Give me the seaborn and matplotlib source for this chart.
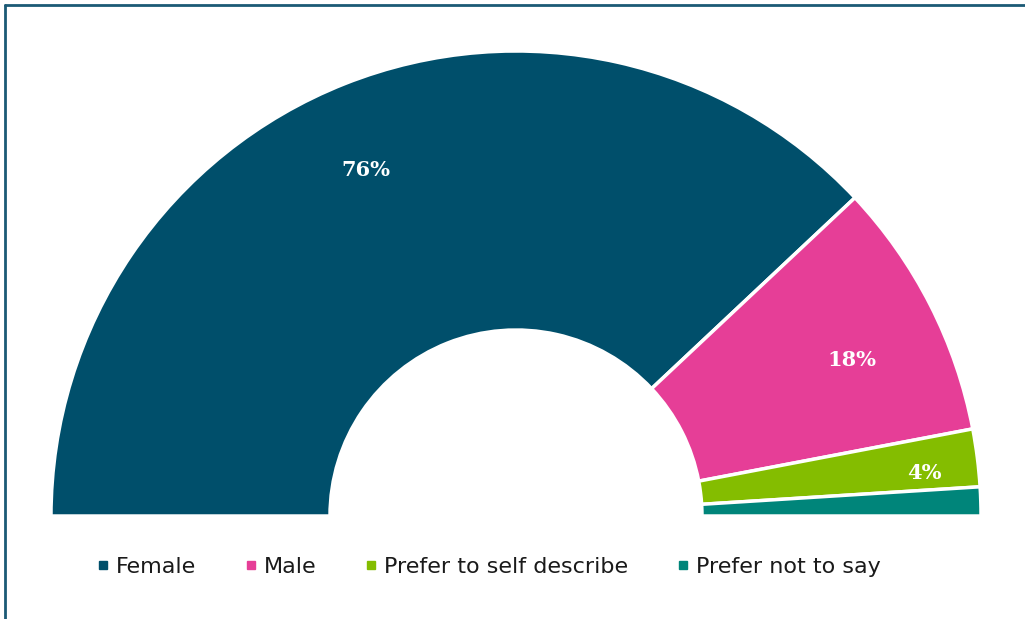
import matplotlib
matplotlib.use("Agg")
import matplotlib.pyplot as plt
from matplotlib.lines import Line2D
import numpy as np
import seaborn as sns

# Share of respondents by gender (percent)
categories = ["Female", "Male", "Prefer to self describe", "Prefer not to say"]
shares = [76, 18, 4, 2]
shown_labels = ["76%", "18%", "4%", ""]

colors = ["#004F6B", "#E63E97", "#84BD00", "#00857A"]

sns.set_theme(style="white")
plt.rcParams["font.family"] = ["DejaVu Sans"]

W, H = 1025, 619
fig = plt.figure(figsize=(W / 100, H / 100), dpi=100)
ax = fig.add_axes([0, 0, 1, 1])

cx, cy = 516, H - 516
r_out, r_in = 465, 186

# Half donut: each share covers its fraction of 180 degrees
fracs = [s / 200 for s in shares]
wedges, _ = ax.pie(
    fracs, normalize=False, startangle=180, counterclock=False,
    radius=r_out, center=(cx, cy), colors=sns.color_palette(colors),
    wedgeprops=dict(width=r_out - r_in, edgecolor="white", linewidth=2.5),
)

# Value labels inside the wedges (radius and small angular nudge per label)
label_r = [379, 371, 411, 0]
label_nudge = [1.7, -1.8, -0.9, 0]
for w, txt, lr, nd in zip(wedges, shown_labels, label_r, label_nudge):
    if not txt:
        continue
    ang = np.deg2rad((w.theta1 + w.theta2) / 2 + nd)
    ax.text(cx + lr * np.cos(ang), cy + lr * np.sin(ang), txt,
            ha="center", va="center_baseline", color="white", fontsize=15,
            fontweight="bold", family="DejaVu Serif")

ax.set_xlim(0, W)
ax.set_ylim(0, H)
ax.set_aspect("equal")
ax.axis("off")

handles = [Line2D([], [], marker="s", linestyle="none", markersize=6,
                  markerfacecolor=c, markeredgecolor=c) for c in colors]
fig.legend(handles, categories, loc="center", bbox_to_anchor=(489 / W, 1 - 567 / H),
           ncol=4, frameon=False, handlelength=0.5, handletextpad=0.35,
           columnspacing=2.2, prop=dict(family="DejaVu Sans", size=16),
           labelcolor="#1A1A1A")

# Frame edge along top and left
border = "#1B5A75"
fig.add_artist(Line2D([5 / W, 1], [1 - 5 / H, 1 - 5 / H], color=border, lw=2,
                      transform=fig.transFigure))
fig.add_artist(Line2D([5 / W, 5 / W], [0, 1 - 5 / H], color=border, lw=2,
                      transform=fig.transFigure))

fig.savefig("out.png", dpi=100)
